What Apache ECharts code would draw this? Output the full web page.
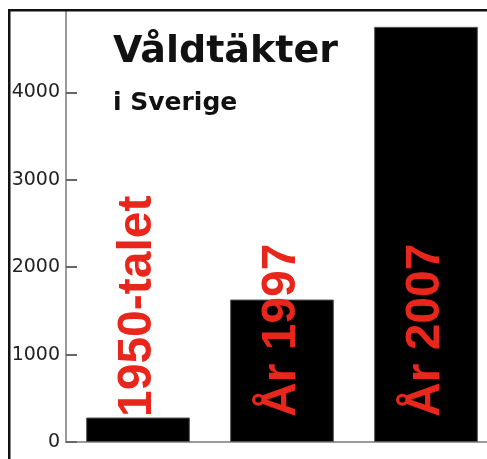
<!DOCTYPE html>
<html>
<head>
<meta charset="utf-8">
<script src="https://cdn.jsdelivr.net/npm/echarts@6/dist/echarts.min.js"></script>
<style>
    html, body { margin: 0; padding: 0; background: #fff; }
</style>
</head>
<body>
<div id="chart" style="width: 487px; height: 459px;"></div>
<script>
// periods shown as red text on the bars
const periods = ['1950-talet', 'År 1997', 'År 2007'];
// reported rapes per year
const rapes = [280, 1630, 4750];
const yTicks = [0, 1000, 2000, 3000, 4000, 5000];

const chart = echarts.init(document.getElementById('chart'));

const option = {
    backgroundColor: '#fff',
    animation: false,
    grid: {
        left: 66,
        right: -11,
        top: 5,
        bottom: 17,
        containLabel: false,
        outerBoundsMode: 'none'
    },
    xAxis: {
        type: 'category',
        data: periods,
        axisLine: { lineStyle: { color: '#999', width: 2 } },
        axisTick: { inside: true, length: 10, lineStyle: { color: '#444', width: 1 } },
        axisLabel: { show: false }
    },
    yAxis: {
        type: 'value',
        min: yTicks[0],
        max: yTicks[yTicks.length - 1],
        interval: 1000,
        splitLine: { show: false },
        axisLine: { show: true, lineStyle: { color: '#999', width: 2 } },
        axisTick: { show: true, inside: true, length: 11, lineStyle: { color: '#666', width: 2 } },
        axisLabel: {
            margin: 6,
            color: '#222',
            fontFamily: 'DejaVu Sans',
            fontSize: 19,
            formatter: (v) => String(v)
        }
    },
    series: [
        {
            type: 'bar',
            data: rapes,
            barCategoryGap: '28%',
            itemStyle: { color: '#000', borderColor: '#555', borderWidth: 1 },
            label: {
                show: true,
                position: 'insideBottom',
                distance: 25,
                rotate: 90,
                align: 'left',
                verticalAlign: 'middle',
                formatter: '{b}',
                color: '#e8261c',
                fontFamily: 'Liberation Sans',
                fontWeight: 'bold',
                fontSize: 48
            }
        }
    ],
    graphic: [
        {
            type: 'text',
            left: 113,
            top: 33,
            style: {
                text: 'Våldtäkter',
                fill: '#111',
                font: 'bold 38px "DejaVu Sans"'
            }
        },
        {
            type: 'text',
            left: 113,
            top: 91,
            style: {
                text: 'i Sverige',
                fill: '#111',
                font: 'bold 25px "DejaVu Sans"'
            }
        },
        // outer frame, cropped at top and left
        { type: 'rect', z: 100, shape: { x: 0, y: 0, width: 487, height: 9 }, style: { fill: '#fff' } },
        { type: 'rect', z: 101, shape: { x: 8, y: 9, width: 479, height: 2.5 }, style: { fill: '#111' } },
        { type: 'rect', z: 101, shape: { x: 8, y: 9, width: 2.5, height: 450 }, style: { fill: '#111' } }
    ]
};

option && chart.setOption(option);
</script>
</body>
</html>
